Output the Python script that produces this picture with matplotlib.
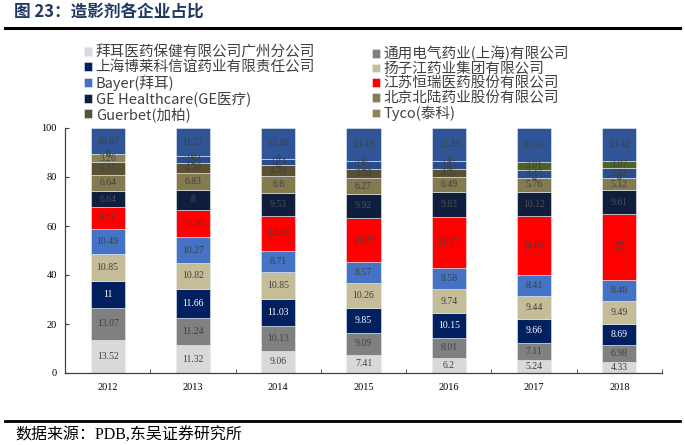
import matplotlib
matplotlib.use("Agg")
import matplotlib.pyplot as plt
from matplotlib.lines import Line2D
import numpy as np

plt.rcParams['font.family'] = ['Liberation Serif', 'Noto Sans CJK SC', 'DejaVu Sans']

years = ["2012", "2013", "2014", "2015", "2016", "2017", "2018"]

s_bayer_gz = [13.52, 11.32, 9.06, 7.41, 6.2, 5.24, 4.33]
s_ge_sh = [13.07, 11.24, 10.13, 9.09, 8.01, 7.11, 6.98]
s_bracco = [11, 11.66, 11.03, 9.85, 10.15, 9.66, 8.69]
s_yangzijiang = [10.85, 10.82, 10.85, 10.26, 9.74, 9.44, 9.49]
s_bayer = [10.49, 10.27, 8.71, 8.57, 8.58, 8.41, 8.48]
s_hengrui = [8.71, 11.36, 14.28, 18.07, 21.17, 24.05, 27]
s_ge = [6.64, 8, 9.53, 9.92, 9.83, 10.12, 9.61]
s_beilu = [6.64, 6.83, 6.8, 6.27, 6.49, 5.76, 5.12]
s_guerbet = [5.15, 4.36, 4.39, 3.93, 3.25, 0, 0]
s_tyco = [3.26, 0, 0, 0, 0, 0, 0]
s_extra1 = [0, 2.63, 2.74, 3.15, 3.15, 3.27, 3.81]
s_extra2 = [0, 0, 0, 0, 0, 3.01, 3.07]
s_other = [10.67, 11.51, 12.48, 13.48, 13.43, 13.93, 13.42]

names = ["拜耳医药保健有限公司广州分公司", "通用电气药业(上海)有限公司",
         "上海博莱科信谊药业有限责任公司", "扬子江药业集团有限公司",
         "Bayer(拜耳)", "江苏恒瑞医药股份有限公司",
         "GE Healthcare(GE医疗)", "北京北陆药业股份有限公司",
         "Guerbet(加柏)", "Tyco(泰科)", "_extra1", "_extra2", "_other"]
series = [s_bayer_gz, s_ge_sh, s_bracco, s_yangzijiang, s_bayer, s_hengrui,
          s_ge, s_beilu, s_guerbet, s_tyco, s_extra1, s_extra2, s_other]
colors = ["#D9D9D9", "#808080", "#002060", "#C4BD97", "#4472C4", "#FF0000",
          "#0F1E3C", "#847A50", "#5A5033", "#8E8452", "#284E8E", "#4F6228", "#2F5597"]
label_colors = ["#404040", "#404040", "#FFFFFF", "#404040", "#404040", "#404040",
                "#505050", "#404040", "#404040", "#404040", "#404040", "#404040", "#404040"]

fig = plt.figure(figsize=(6.85, 4.45), dpi=100)
ax = fig.add_axes([65/685, 1-373/445, (662-65)/685, (373-128)/445])

x = np.arange(len(years))
bottom = np.zeros(len(years))
handles = []
for name, vals, col, lc in zip(names, series, colors, label_colors):
    vals = np.array(vals, dtype=float)
    bars = ax.bar(x, vals, 0.4, bottom=bottom, color=col, label=name,
                  edgecolor="#E8EEF6", linewidth=0.4)
    for xi, b, v in zip(x, bottom, vals):
        ax.text(xi, b + v/2, f"{v:g}", ha="center", va="center",
                fontsize=7, color=lc, family=['Liberation Serif'])
    if not name.startswith("_"):
        handles.append(bars)
    bottom += vals

ax.set_xlim(-0.5, len(years) - 0.5)
ax.set_ylim(0, 100)
ax.set_yticks(range(0, 101, 20))
ax.set_xticks(x)
ax.set_xticklabels(years)
ax.set_xticks(np.arange(-0.5, len(years)), minor=True)
ax.tick_params(axis="x", which="major", length=0, labelsize=7.5, pad=7)
ax.tick_params(axis="x", which="minor", length=3, direction="in", color="#404040")
ax.tick_params(axis="y", length=3, direction="in", labelsize=7.5, color="#404040", pad=6)
for sp in ["top", "right"]:
    ax.spines[sp].set_visible(False)
for sp in ["left", "bottom"]:
    ax.spines[sp].set_color("#404040")
    ax.spines[sp].set_linewidth(0.9)

# legend: two columns filled row by row, each placed separately
leg_kw = dict(loc="upper left", frameon=False, handlelength=0.55, handleheight=0.55,
              handletextpad=0.25, labelspacing=0.04, borderpad=0, borderaxespad=0,
              prop={'family': ['Noto Sans CJK SC'], 'size': 10.5})
col1 = [0, 2, 4, 6, 8]
col2 = [1, 3, 5, 7, 9]
leg1 = fig.legend([handles[i] for i in col1], [names[i] for i in col1],
                  bbox_to_anchor=(84/685, 1-46/445), **leg_kw)
leg2 = fig.legend([handles[i] for i in col2], [names[i] for i in col2],
                  bbox_to_anchor=(372/685, 1-46/445), **leg_kw)
for lg in (leg1, leg2):
    for t in lg.get_texts():
        t.set_color("#404040")

# title and frame lines
fig.text(14/685, 1-13/445, "图 23：造影剂各企业占比", fontsize=12, fontweight="bold",
         color="#1F3864", va="center", ha="left", family=['Noto Sans CJK SC'])
fig.add_artist(Line2D([5/685, 680/685], [1-28/445, 1-28/445], color="black", lw=2.2))
fig.add_artist(Line2D([5/685, 680/685], [1-421/445, 1-421/445], color="black", lw=2.0))
fig.text(15/685, 1-436/445, "数据来源：PDB,东吴证券研究所", fontsize=11.5,
         color="black", va="center", ha="left",
         family=['Liberation Serif', 'Noto Sans CJK SC'])

fig.savefig("out.png", dpi=100)
